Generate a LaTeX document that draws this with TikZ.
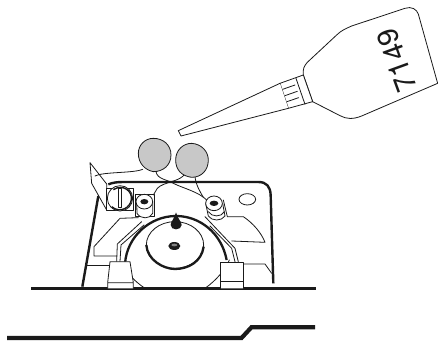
\documentclass[tikz,border=0pt]{standalone}
\usepackage{fontspec}
\setmainfont{TeX Gyre Heros}
\definecolor{ink}{HTML}{1A1A1A}
\definecolor{blobfill}{HTML}{C8C8C8}
\tikzset{
  thin line/.style={draw=ink,line width=0.8pt,line join=round,line cap=round},
  heavy line/.style={draw=ink,line width=2.4pt,line join=round},
  base line/.style={draw=ink,line width=3pt},
  blob/.style={thin line,fill=blobfill}
}
\begin{document}
\begin{tikzpicture}[x=1pt,y=1pt]
\useasboundingbox (0,0) rectangle (438,-340);
\fill[white] (0,0) rectangle (438,-340);
% bottom rail
\draw[base line,line width=4.2pt] (7,-338) -- (241.5,-338) -- (251.5,-327.2) -- (315,-327.2);
\draw[base line] (31,-288.7) -- (316,-288.7);
% bottle (zoom 2 coordinates)
\begin{scope}[shift={(170,0)},x=0.3333pt,y=-0.3333pt]
\draw[thin line,fill=white] (400,225) .. controls (398,208) and (402,198) .. (412,187)
  -- (500,105) .. controls (515,90) and (530,85) .. (545,78)
  -- (705,25) .. controls (725,18) and (740,28) .. (745,42)
  -- (803,250) -- (575,348) .. controls (550,358) and (530,358) .. (510,347)
  -- (428,305) -- cycle;
\draw[thin line,fill=white] (330,250) -- (400,225) -- (428,305) -- (355,325) -- cycle;
\draw[thin line,fill=white] (330,250) -- (25,392) -- (33,408) -- (355,325);
\draw[thin line] (378,235) -- (405,313);
\draw[thin line] (338,268) -- (375,255) (345,287) -- (382,274) (351,305) -- (386,293);
\node[rotate=110,font=\fontsize{29}{29}\selectfont,text=ink,inner sep=0pt] (label) at (681,181) {7149};
\end{scope}
% mechanism (zoom 1 coordinates)
\begin{scope}[shift={(70,-120)},x=0.3333pt,y=-0.3333pt]
% plate
\draw[heavy line] (37,500) -- (85,228);
\draw[heavy line] (115,193) .. controls (128,188) and (140,186) .. (160,186) -- (565,186) .. controls (590,186) and (601,200) .. (602,225) -- (610,490);
% wings and lower lines
\draw[thin line] (205,293) -- (150,295) -- (72,380) -- (72,408) -- (140,408);
\draw[thin line] (460,240) -- (472,290) -- (520,290) .. controls (550,310) and (575,340) .. (585,367) -- (485,363);
\draw[thin line] (50,437) -- (118,437);
\draw[thin line] (520,432) -- (585,432) -- (605,460);
\draw[thin line] (532,238) ellipse (25 and 17);
% wheel
\draw[thin line] (160,432) .. controls (165,455) and (195,485) .. (225,505);
\draw[thin line] (405,505) .. controls (440,480) and (465,450) .. (478,420);
\draw[heavy line,line width=2.3pt] (165,432) .. controls (170,350) and (240,288) .. (318,288) .. controls (390,288) and (455,340) .. (470,420);
% guides
\draw[thin line] (140,425) -- (142,372) -- (215,305);
\draw[thin line] (150,425) -- (153,375) -- (222,315);
\draw[thin line] (505,425) -- (495,385) -- (405,290);
\draw[thin line] (495,425) -- (485,385) -- (420,318);
% blocks
\draw[thin line,fill=white] (113,505) -- (113,488) -- (120,425) -- (180,425) -- (190,488) -- (190,505) (113,488) -- (190,488);
\draw[thin line,fill=white] (452,505) -- (452,428) -- (520,428) -- (520,505) (452,485) -- (520,485);
% disc
\draw[thin line] (315,375) ellipse (86 and 70);
\draw[heavy line,line width=2.3pt] (229,375) .. controls (232,420) and (280,447) .. (315,447) .. controls (355,447) and (395,425) .. (401,380);
\fill[ink] (313,378) ellipse (18 and 12);
\fill[gray] (313,375) ellipse (9 and 4);
\fill[ink] (318,277) .. controls (322,295) and (335,305) .. (335,315) .. controls (335,323) and (327,328) .. (318,328) .. controls (309,328) and (302,323) .. (302,315) .. controls (302,305) and (314,295) .. (318,277) -- cycle;
% left post
\draw[thin line,fill=white] (197,222) rectangle (252,290);
\draw[thin line,fill=white] (200,245) -- (201,280) .. controls (212,298) and (240,298) .. (248,280) -- (248,245) -- cycle;
\draw[thin line,fill=white] (223,245) ellipse (25 and 22);
\fill[ink] (223,245) ellipse (12 and 8);
% right post
\draw[thin line,fill=white] (407,250) -- (415,288) .. controls (425,304) and (455,304) .. (465,288) -- (458,250) -- cycle;
\draw[thin line] (415,275) .. controls (425,292) and (455,292) .. (463,275);
\draw[thin line,fill=white] (432,250) ellipse (25 and 22);
\fill[ink] (432,250) ellipse (13 and 8);
% bracket and screw
\draw[thin line,fill=white] (60,128) -- (110,192) -- (110,270) -- (65,190) -- cycle;
\draw[thin line,fill=white] (110,205) -- (190,205) -- (190,270) -- (110,270) -- cycle;
\draw[thin line,fill=white] (150,235) circle (38);
\draw[heavy line,line width=1.4pt] (130,209) .. controls (160,190) and (188,215) .. (184,238) .. controls (183,262) and (150,282) .. (125,260);
\draw[thin line,fill=white] (145,205) rectangle (153,262);
% threads
\draw[thin line] (75,168) .. controls (100,155) and (190,160) .. (218,148);
\draw[thin line] (258,155) .. controls (262,178) and (290,178) .. (310,190) .. controls (340,205) and (385,215) .. (410,240);
\draw[thin line] (345,160) .. controls (335,185) and (280,185) .. (262,205) -- (250,225);
\draw[thin line] (375,170) .. controls (378,195) and (390,215) .. (400,232);
% blobs
\draw[blob] (205,100) .. controls (205,75) and (225,55) .. (250,55) .. controls (280,55) and (303,75) .. (303,105) .. controls (303,135) and (280,155) .. (250,155) .. controls (225,150) and (205,130) .. (205,100) -- cycle;
\draw[blob] (317,120) .. controls (317,90) and (340,70) .. (365,70) .. controls (395,72) and (415,95) .. (415,120) .. controls (415,150) and (395,172) .. (365,172) .. controls (335,168) and (317,150) .. (317,120) -- cycle;
\end{scope}
\end{tikzpicture}
\end{document}
